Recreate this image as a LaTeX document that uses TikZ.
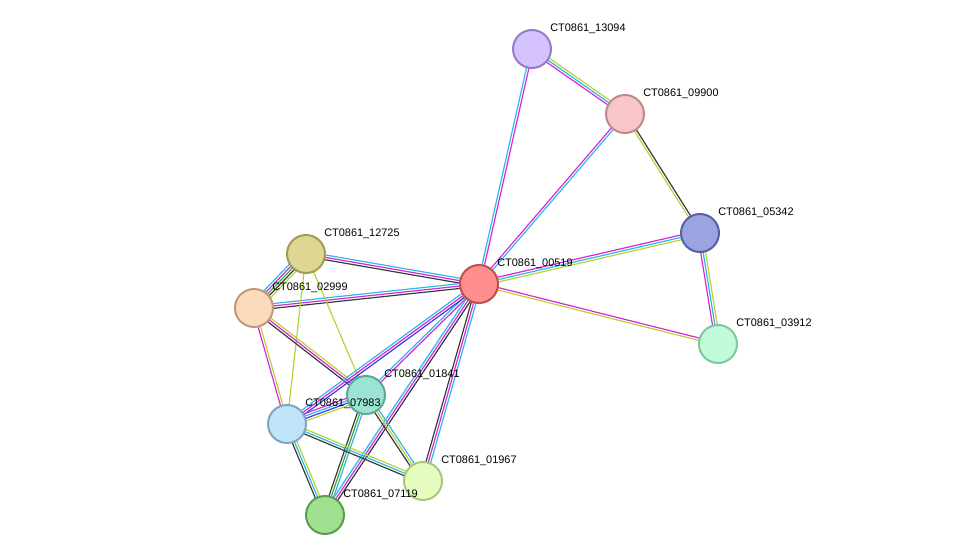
\documentclass[tikz,border=0pt]{standalone}
\usepackage{fontspec}
\setmainfont{Liberation Sans}
\usetikzlibrary{calc,backgrounds}

\definecolor{exper}{HTML}{D62AD6}
\definecolor{dbase}{HTML}{2FB8E8}
\definecolor{tmine}{HTML}{B8D33A}
\definecolor{coexp}{HTML}{3A3A3A}
\definecolor{cooc}{HTML}{3A3AE8}
\definecolor{neigh}{HTML}{3AA83A}

\tikzset{
  prot/.style={circle, minimum size=28.5pt, inner sep=0pt, line width=1.5pt},
  plab/.style={anchor=west, font=\fontsize{8.2}{10}\selectfont, inner sep=0pt},
  link/.style={line width=0.9pt}
}

% edge with parallel coloured lines
\newcommand\edge[3]{%
  \foreach \c [count=\n] in {#3}{\global\let\ncol\n}%
  \foreach \c [count=\i] in {#3}{%
    \pgfmathsetmacro\off{(\i-(\ncol+1)/2)*1.8}%
    \draw[link,\c] ($(#1.center)!\off pt!90:(#2.center)$) -- ($(#2.center)!\off pt!-90:(#1.center)$);
  }%
}

\begin{document}
\begin{tikzpicture}[x=0.75pt,y=-0.75pt]
  \useasboundingbox (0,0) rectangle (976,560);

  % proteins
  \node[prot, fill={rgb,255:red,213;green,195;blue,255}, draw={rgb,255:red,150;green,125;blue,200}] (p13094) at (532,49) {};
  \node[prot, fill={rgb,255:red,248;green,198;blue,198}, draw={rgb,255:red,192;green,136;blue,136}] (p09900) at (625,114) {};
  \node[prot, fill={rgb,255:red,155;green,164;blue,224}, draw={rgb,255:red,85;green,96;blue,168}] (p05342) at (700,233) {};
  \node[prot, fill={rgb,255:red,194;green,251;blue,220}, draw={rgb,255:red,125;green,199;blue,154}] (p03912) at (718,344) {};
  \node[prot, fill={rgb,255:red,255;green,143;blue,143}, draw={rgb,255:red,192;green,80;blue,80}] (p00519) at (479,284) {};
  \node[prot, fill={rgb,255:red,221;green,215;blue,147}, draw={rgb,255:red,160;green,156;blue,85}] (p12725) at (306,254) {};
  \node[prot, fill={rgb,255:red,251;green,219;blue,187}, draw={rgb,255:red,192;green,154;blue,124}] (p02999) at (254,308) {};
  \node[prot, fill={rgb,255:red,155;green,227;blue,211}, draw={rgb,255:red,95;green,168;blue,150}] (p01841) at (366,395) {};
  \node[prot, fill={rgb,255:red,192;green,229;blue,249}, draw={rgb,255:red,127;green,166;blue,192}] (p07983) at (287,424) {};
  \node[prot, fill={rgb,255:red,231;green,253;blue,192}, draw={rgb,255:red,169;green,200;blue,126}] (p01967) at (423,481) {};
  \node[prot, fill={rgb,255:red,160;green,224;blue,144}, draw={rgb,255:red,90;green,158;blue,78}] (p07119) at (325,515) {};

  \foreach \p/\t in {p13094/13094, p09900/09900, p05342/05342, p03912/03912,
      p00519/00519, p12725/12725, p02999/02999, p01841/01841, p07983/07983,
      p01967/01967, p07119/07119}
    \node[plab] at ($(\p.center)+(18,-20)$) {CT0861\_\t};

  \begin{scope}[on background layer]
    \edge{p13094}{p00519}{dbase,exper}
    \edge{p13094}{p09900}{exper,dbase,tmine}
    \edge{p09900}{p00519}{exper,dbase}
    \edge{p09900}{p05342}{tmine,coexp}
    \edge{p05342}{p00519}{exper,dbase,tmine}
    \edge{p05342}{p03912}{exper,dbase,tmine}
    \edge{p03912}{p00519}{exper,tmine}
    \edge{p12725}{p00519}{coexp,exper,dbase}
    \edge{p02999}{p00519}{coexp,exper,dbase}
    \edge{p12725}{p02999}{dbase,exper,neigh,coexp,tmine}
    \edge{p12725}{p07983}{tmine}
    \edge{p12725}{p01841}{tmine}
    \edge{p02999}{p01841}{coexp,exper,tmine}
    \edge{p02999}{p07983}{exper,tmine}
    \edge{p00519}{p01841}{dbase,exper}
    \edge{p00519}{p07983}{dbase,exper,cooc}
    \edge{p00519}{p07119}{dbase,exper,coexp}
    \edge{p00519}{p01967}{coexp,exper,dbase}
    \edge{p01841}{p07983}{exper,dbase,cooc,tmine}
    \edge{p01841}{p01967}{coexp,tmine,dbase}
    \edge{p01841}{p07119}{coexp,neigh,dbase}
    \edge{p07983}{p01967}{coexp,dbase,tmine}
    \edge{p07983}{p07119}{coexp,dbase,tmine}
  \end{scope}
\end{tikzpicture}
\end{document}
